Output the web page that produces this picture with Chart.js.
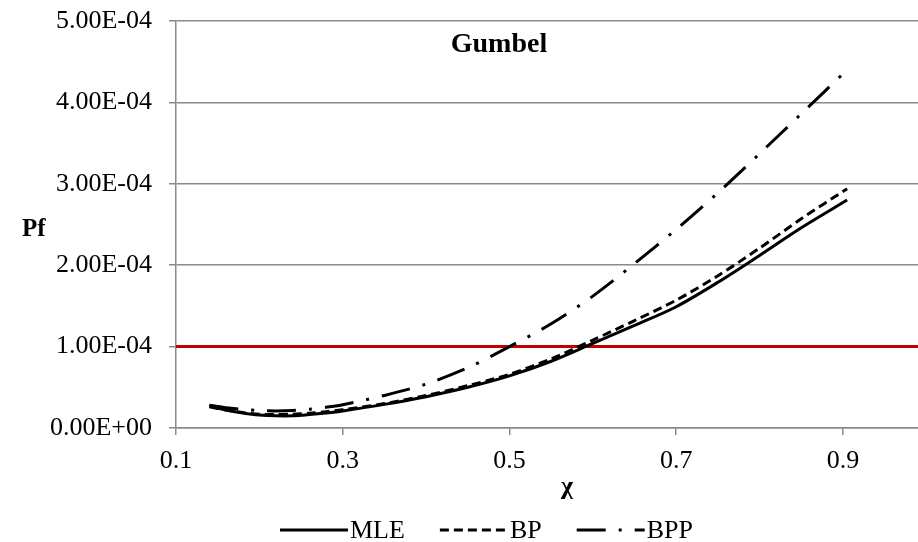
<!DOCTYPE html>
<html>
<head>
<meta charset="utf-8">
<script src="https://cdn.jsdelivr.net/npm/chart.js@4.4.1/dist/chart.umd.min.js"></script>
<style>
  html, body { margin: 0; padding: 0; background: #fff; }
  #wrap { width: 918px; height: 542px; position: relative; }
</style>
</head>
<body>
<div id="wrap"><canvas id="chart" width="918" height="542"></canvas></div>
<script>
/* Gumbel — Pf vs chi */

const chiValues = [0.14, 0.16, 0.18, 0.20, 0.22, 0.24, 0.26, 0.28, 0.30, 0.35, 0.40, 0.45, 0.50, 0.55, 0.60, 0.65, 0.70, 0.75, 0.80, 0.85, 0.905];
const mleValues = [2.7e-5, 2.2e-5, 1.85e-5, 1.6e-5, 1.5e-5, 1.5e-5, 1.65e-5, 1.85e-5, 2.1e-5, 2.9e-5, 3.85e-5, 5.0e-5, 6.4e-5, 8.2e-5, 1.04e-4, 1.26e-4, 1.49e-4, 1.79e-4, 2.12e-4, 2.46e-4, 2.80e-4];
const bpValues  = [2.6e-5, 2.2e-5, 1.9e-5, 1.7e-5, 1.65e-5, 1.7e-5, 1.8e-5, 2.0e-5, 2.25e-5, 3.0e-5, 4.0e-5, 5.2e-5, 6.6e-5, 8.5e-5, 1.08e-4, 1.32e-4, 1.57e-4, 1.87e-4, 2.21e-4, 2.57e-4, 2.94e-4];
const bppValues = [2.8e-5, 2.5e-5, 2.3e-5, 2.15e-5, 2.1e-5, 2.15e-5, 2.3e-5, 2.55e-5, 2.85e-5, 4.0e-5, 5.4e-5, 7.4e-5, 1.0e-4, 1.28e-4, 1.62e-4, 2.02e-4, 2.44e-4, 2.89e-4, 3.37e-4, 3.86e-4, 4.40e-4];
const limitValue = 1e-4;

const xTicks = [0.1, 0.3, 0.5, 0.7, 0.9];
const yTicks = [0, 1e-4, 2e-4, 3e-4, 4e-4, 5e-4];
const xMin = 0.1, xMax = 0.99;

const FONT = '"Liberation Serif", "Times New Roman", serif';
const GRID = '#8a8a8a';

const toPoints = (ys) => chiValues.map((x, i) => ({ x, y: ys[i] }));

// Excel style 0.00E+00
const sciLabel = (v) => {
  if (v === 0) return '0.00E+00';
  const [m, e] = v.toExponential(2).split('e');
  const exp = parseInt(e, 10);
  return `${m}E${exp < 0 ? '-' : '+'}${String(Math.abs(exp)).padStart(2, '0')}`;
};

const curve = (label, ys, dash) => ({
  label,
  data: toPoints(ys),
  borderColor: '#000',
  borderWidth: 3,
  borderDash: dash,
  tension: 0.3,
  pointRadius: 0,
  fill: false,
  inLegend: true,
});

// Texts: chart title, axis titles, legend
const textPlugin = {
  id: 'texts',
  afterDraw(chart) {
    const { ctx } = chart;
    ctx.save();
    ctx.fillStyle = '#000';

    ctx.font = `bold 28px ${FONT}`;
    ctx.textAlign = 'center';
    ctx.textBaseline = 'alphabetic';
    ctx.fillText('Gumbel', 499, 52);

    ctx.font = `bold 25px ${FONT}`;
    ctx.textAlign = 'left';
    ctx.fillText('Pf', 22, 236);

    ctx.font = `bold 26px ${FONT}`;
    ctx.textAlign = 'center';
    ctx.fillText('χ', 567, 494);

    // legend
    let x = 280;
    const y = 530;
    ctx.font = `26px ${FONT}`;
    ctx.textAlign = 'left';
    ctx.textBaseline = 'middle';
    chart.data.datasets.filter(ds => ds.inLegend).forEach(ds => {
      ctx.save();
      ctx.strokeStyle = ds.borderColor;
      ctx.lineWidth = ds.borderWidth;
      ctx.setLineDash(ds.borderDash || []);
      ctx.beginPath();
      ctx.moveTo(x, y);
      ctx.lineTo(x + 68, y);
      ctx.stroke();
      ctx.restore();
      x += 70;
      ctx.fillText(ds.label, x, y + 1);
      x += ctx.measureText(ds.label).width + 35;
    });
    ctx.restore();
  }
};

new Chart(document.getElementById('chart'), {
  type: 'line',
  data: {
    datasets: [
      curve('MLE', mleValues, []),
      curve('BP', bpValues, [9, 5]),
      curve('BPP', bppValues, [29, 13, 3, 13]),
      {
        label: 'limit',
        data: [{ x: xMin, y: limitValue }, { x: xMax, y: limitValue }],
        borderColor: '#C00000',
        borderWidth: 3,
        pointRadius: 0,
        tension: 0,
        fill: false,
      },
    ]
  },
  options: {
    responsive: false,
    animation: false,
    events: [],
    layout: { padding: { top: 21, right: 0, left: 0, bottom: 0 } },
    plugins: {
      legend: { display: false },
      title: { display: false },
      tooltip: { enabled: false },
    },
    scales: {
      x: {
        type: 'linear',
        min: xMin,
        max: xMax,
        afterBuildTicks: (scale) => { scale.ticks = xTicks.map(value => ({ value })); },
        afterFit: (scale) => { scale.height = 114; scale.paddingLeft = 0; scale.paddingRight = 0; },
        grid: { drawOnChartArea: false, drawTicks: true, tickLength: 7, color: GRID, lineWidth: 1.5 },
        border: { display: true, color: GRID, width: 1.5 },
        ticks: { color: '#000', padding: 11, maxRotation: 0, font: { family: FONT, size: 26 }, callback: (v) => String(v) },
      },
      y: {
        type: 'linear',
        min: 0,
        max: 5e-4,
        afterBuildTicks: (scale) => { scale.ticks = yTicks.map(value => ({ value })); },
        afterFit: (scale) => { scale.width = 176; scale.paddingTop = 0; scale.paddingBottom = 0; },
        grid: { drawOnChartArea: true, drawTicks: true, tickLength: 7, color: GRID, lineWidth: 1.5 },
        border: { display: true, color: GRID, width: 1.5 },
        ticks: { color: '#000', padding: 17, font: { family: FONT, size: 26 }, callback: (v) => sciLabel(v) },
      }
    }
  },
  plugins: [textPlugin]
});
</script>
</body>
</html>
